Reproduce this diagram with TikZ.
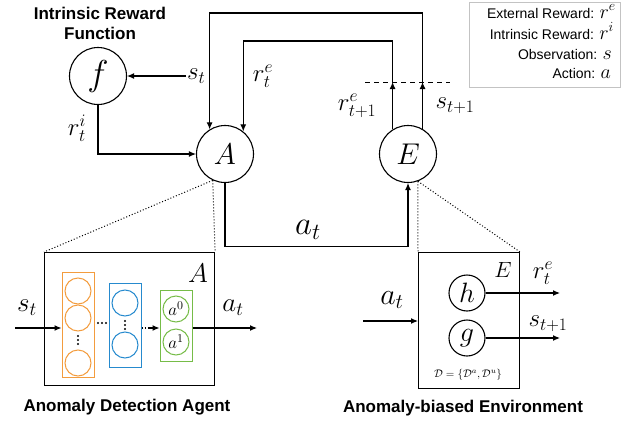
\RequirePackage{fix-cm}
\documentclass[tikz,border=0pt]{standalone}
\usepackage{fontspec}
\setsansfont{Liberation Sans}
\usetikzlibrary{arrows.meta}
\definecolor{layerorange}{RGB}{243,156,62}
\definecolor{layerblue}{RGB}{38,138,206}
\definecolor{layergreen}{RGB}{118,188,72}
\definecolor{legendgray}{RGB}{195,195,195}
\tikzset{
  arr/.style={-{Latex[length=7pt,width=6pt]}, line width=1.1pt},
  bigc/.style={circle, draw, line width=1.1pt, minimum size=57pt, inner sep=0pt,
               font=\fontsize{30}{30}\selectfont},
  smallc/.style={circle, draw, line width=1.1pt, minimum size=36pt, inner sep=0pt,
               font=\fontsize{28}{28}\selectfont},
  unit/.style={circle, draw=#1, line width=1pt, minimum size=26pt, inner sep=0pt},
  layer/.style={draw=#1, line width=1pt, minimum width=32pt, inner sep=0pt},
  mlab/.style={inner sep=1pt, font=\fontsize{25}{25}\selectfont},
  title/.style={inner sep=0pt, anchor=base, font=\sffamily\bfseries\fontsize{17}{17}\selectfont},
  legtext/.style={inner sep=0pt, anchor=base east, font=\sffamily\fontsize{14}{14}\selectfont},
  zoomline/.style={line width=1pt, dash pattern=on 1pt off 2pt},
  panel/.style={draw, line width=1.1pt, anchor=north west, inner sep=0pt},
  dotmark/.style={circle, fill, inner sep=0pt, minimum size=2.2pt}
}
\begin{document}
\begin{tikzpicture}[x=1pt,y=-1pt]
\useasboundingbox (0,0) rectangle (633,421);

% ---------- top level: reward function, agent, environment ----------
\node[title] (ftitle1) at (100,19) {Intrinsic Reward};
\node[title] (ftitle2) at (100,39) {Function};

\node[bigc, font=\fontsize{36}{36}\selectfont] (f) at (98,76) {$f$};
\node[bigc] (A) at (225,154) {$A$};
\node[bigc] (E) at (408,154) {$E$};

% observation into f, intrinsic reward into A
\node[mlab, anchor=west] (stf) at (186,76) {$s_t$};
\draw[arr] (stf.west) -- (f.east);
\node[mlab] (rti) at (77,128) {$r_t^i$};
\draw[arr] (f.south) |- (A.west);

% feedback loops from E to A through the time-step boundary
\coordinate (dashL) at (365,82);
\coordinate (dashR) at (450,82);
\draw[line width=1pt, dash pattern=on 5pt off 4pt] (dashL) -- (dashR);

\coordinate (sUp) at (E.60 |- dashL);
\coordinate (rUp) at (E.122 |- dashL);
\draw[arr] (E.60) -- (sUp);
\draw[arr] (E.122) -- (rUp);
\draw[arr] (sUp) -- ++(0,-69) -| (A.122);
\draw[arr] (rUp) -- ++(0,-41) -| (A.51);

\node[mlab] (rte) at (263,76) {$r_t^e$};
\node[mlab] (rte1) at (357,106) {$r_{t+1}^e$};
\node[mlab] (st1) at (455,106) {$s_{t+1}$};

% action from A to E
\draw[arr] (A.south) -- ++(0,63) -| (E.south);
\node[mlab, font=\fontsize{33}{33}\selectfont] (atmid) at (308,230) {$a_t$};

% ---------- legend ----------
\node[draw=legendgray, line width=0.9pt, anchor=north west, minimum width=151pt,
      minimum height=85pt, inner sep=0pt] (legend) at (469,2) {};
\node[legtext] (lg1) at (616,18) {External Reward: {\fontsize{20}{20}\selectfont$r^e$}};
\node[legtext] (lg2) at (614,39) {Intrinsic Reward: {\fontsize{20}{20}\selectfont$r^i$}};
\node[legtext] (lg3) at (612,59) {Observation: {\fontsize{20}{20}\selectfont$s$}};
\node[legtext] (lg4) at (611,78) {Action: {\fontsize{20}{20}\selectfont$a$}};

% ---------- agent detail ----------
\node[panel, minimum width=170pt, minimum height=133pt] (agent) at (44,252) {};
\draw[zoomline] (A.245) -- (agent.north west);
\draw[zoomline] (A.245) -- (agent.north east);
\node[inner sep=0pt, font=\fontsize{27}{27}\selectfont] (agentA) at (198,273) {$A$};

\node[layer=layerorange, minimum height=105pt] (l1) at (78,324.5) {};
\node[unit=layerorange] (u11) at (78,291) {};
\node[unit=layerorange] (u12) at (78,318) {};
\node[unit=layerorange] (u13) at (78,363) {};
\foreach \y in {336,340,344} \node[dotmark] at (78,\y) {};

\foreach \x in {98,102,106} \node[dotmark] at (\x,323) {};

\node[layer=layerblue, minimum height=84pt] (l2) at (125,325) {};
\node[unit=layerblue] (u21) at (125,303) {};
\node[unit=layerblue] (u22) at (125,345) {};
\foreach \y in {321,325,329} \node[dotmark] at (125,\y) {};

\node[layer=layergreen, minimum height=71pt] (l3) at (176,325.5) {};
\node[unit=layergreen, font=\fontsize{17}{17}\selectfont] (a0) at (176,309) {$a^0$};
\node[unit=layergreen, font=\fontsize{17}{17}\selectfont] (a1) at (176,342) {$a^1$};

\coordinate (inA) at (15,328);
\coordinate (outA) at (257,328);
\draw[arr] (inA) -- (inA -| l1.west);
\draw[line width=1.1pt, dash pattern=on 1.5pt off 1.5pt] (l2.east |- inA) -- ++(6,0);
\draw[arr] ([xshift=6pt]l2.east |- inA) -- (l3.west |- inA);
\draw[arr] (l3.east |- outA) -- (outA);
\node[mlab, font=\fontsize{27}{27}\selectfont] (stin) at (27,308) {$s_t$};
\node[mlab, font=\fontsize{27}{27}\selectfont] (atout) at (233,308) {$a_t$};

\node[title] (agtitle) at (127,411) {Anomaly Detection Agent};

% ---------- environment detail ----------
\node[panel, minimum width=101pt, minimum height=136pt] (env) at (418,252) {};
\draw[zoomline] (E.290) -- (env.north west);
\draw[zoomline] (E.290) -- (env.north east);
\node[inner sep=0pt, font=\fontsize{22}{22}\selectfont] (envE) at (503,270) {$E$};

\node[smallc] (h) at (467,293) {$h$};
\node[smallc] (g) at (467,338) {$g$};
\coordinate (hOut) at (560,293);
\coordinate (gOut) at (560,338);
\draw[arr] (h.east) -- (hOut);
\draw[arr] (g.east) -- (gOut);
\node[mlab] (rteo) at (543,273) {$r_t^e$};
\node[mlab] (st1o) at (548,324) {$s_{t+1}$};

\coordinate (inE) at (363,321);
\draw[arr] (inE) -- (inE -| env.west);
\node[mlab, font=\fontsize{30}{30}\selectfont] (atin) at (392,300) {$a_t$};

\node[inner sep=0pt, font=\fontsize{11}{11}\selectfont] (dset) at (468,375)
  {$\mathcal{D}=\{\mathcal{D}^a,\mathcal{D}^u\}$};

\node[title] (envtitle) at (463,412) {Anomaly-biased Environment};
\end{tikzpicture}
\end{document}
